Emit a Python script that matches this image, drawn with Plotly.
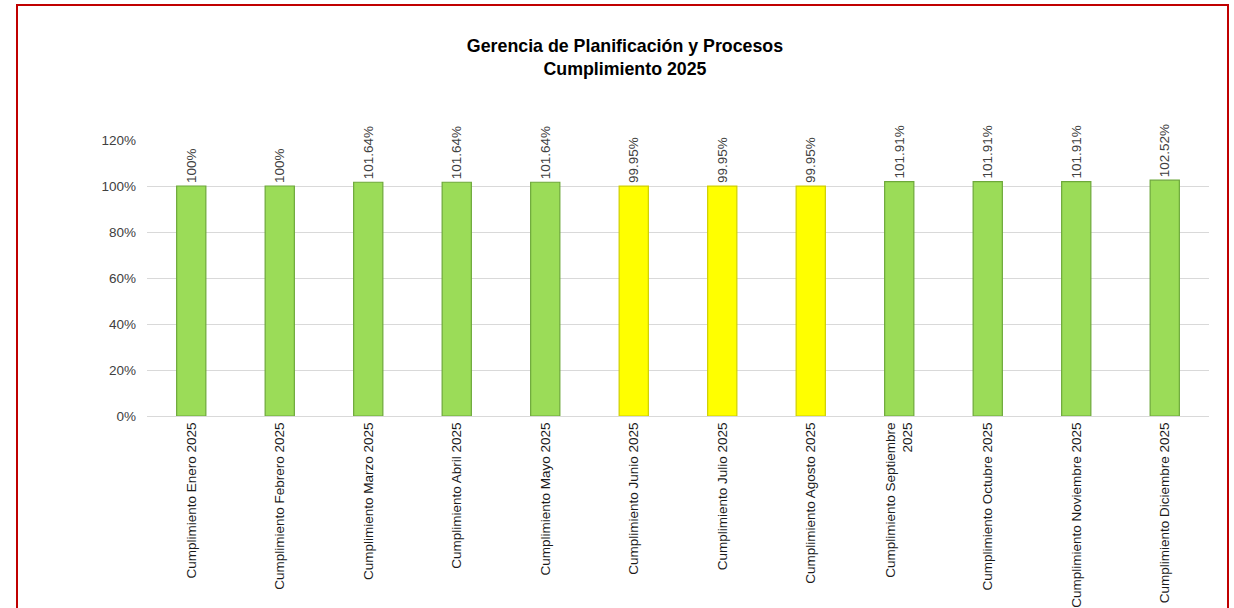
import plotly.graph_objects as go

categories = [
    "Cumplimiento Enero 2025", "Cumplimiento Febrero 2025", "Cumplimiento Marzo 2025",
    "Cumplimiento Abril 2025", "Cumplimiento Mayo 2025", "Cumplimiento Junio 2025",
    "Cumplimiento Julio 2025", "Cumplimiento Agosto 2025", "Cumplimiento Septiembre<br>2025",
    "Cumplimiento Octubre 2025", "Cumplimiento Noviembre 2025", "Cumplimiento Diciembre 2025",
]
values = [1.0, 1.0, 1.0164, 1.0164, 1.0164, 0.9995, 0.9995, 0.9995, 1.0191, 1.0191, 1.0191, 1.0252]
value_labels = ["100%", "100%", "101.64%", "101.64%", "101.64%", "99.95%", "99.95%", "99.95%",
                "101.91%", "101.91%", "101.91%", "102.52%"]
status = ["ok", "ok", "ok", "ok", "ok", "warn", "warn", "warn", "ok", "ok", "ok", "ok"]
y_ticks = [0, 0.2, 0.4, 0.6, 0.8, 1.0, 1.2]
y_tick_labels = ["0%", "20%", "40%", "60%", "80%", "100%", "120%"]

fill_map = {"ok": "#9BDC58", "warn": "#FFFF00"}
line_map = {"ok": "#6DA83A", "warn": "#CFCF00"}

W, H = 1234, 608
plot_left, plot_right, plot_top, plot_bottom = 147, 1209, 140, 416
L, R, T, B = plot_left, W - plot_right, plot_top, H - plot_bottom
pw, ph = W - L - R, H - T - B

FONT = "Liberation Sans, Arial"

fig = go.Figure()
fig.add_trace(go.Bar(
    x=categories, y=values,
    marker=dict(color=[fill_map[s] for s in status],
                line=dict(color=[line_map[s] for s in status], width=1.2)),
    text=value_labels, textposition="outside", textangle=-90, constraintext="none",
    textfont=dict(family=FONT, size=13.5, color="#404040"),
    cliponaxis=False, width=0.33, hoverinfo="x+y",
))

def px_x(px):
    return (px - L) / pw

def px_y(py):
    return (plot_bottom - py) / ph

fig.update_layout(
    width=W, height=H,
    margin=dict(l=L, r=R, t=T, b=B, autoexpand=False),
    paper_bgcolor="white", plot_bgcolor="white",
    showlegend=False,
    font=dict(family=FONT, size=13.5, color="#404040"),
    title=dict(
        text="<b>Gerencia de Planificación y Procesos<br>Cumplimiento 2025</b>",
        x=px_x(625), xref="paper", xanchor="center",
        y=1 - 52 / H, yref="container", yanchor="middle",
        font=dict(family=FONT, size=17.8, color="#000000"),
    ),
    xaxis=dict(
        tickangle=-90, showgrid=False, showline=True, linecolor="#D9D9D9", linewidth=1,
        ticks="", tickfont=dict(family=FONT, size=13.5, color="#1a1a1a"), fixedrange=True,
        automargin=False,
    ),
    yaxis=dict(
        range=[0, 1.2], tickvals=y_ticks, ticktext=y_tick_labels,
        showgrid=True, gridcolor="#D9D9D9", gridwidth=1, zeroline=False,
        showline=False, ticks="", tickfont=dict(family=FONT, size=13.5, color="#404040"),
        ticklabelstandoff=10, fixedrange=True, automargin=False,
    ),
    shapes=[dict(
        type="rect", xref="paper", yref="paper",
        x0=px_x(17), x1=px_x(1228), y0=px_y(640), y1=px_y(5),
        line=dict(color="#C00000", width=2), fillcolor="rgba(0,0,0,0)", layer="above",
    )],
)

fig.write_html(
    "out.html",
    config={"displayModeBar": False},
    post_script="document.body.style.margin='0';document.body.style.overflow='hidden';",
)
